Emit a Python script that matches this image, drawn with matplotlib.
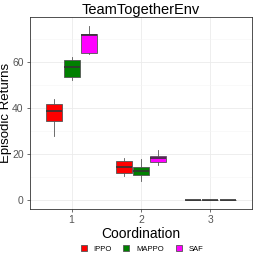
import matplotlib
matplotlib.use("Agg")
import matplotlib.pyplot as plt
from matplotlib.patches import Patch
import numpy as np

plt.rcParams['font.family'] = ['Liberation Sans', 'DejaVu Sans']

title = "TeamTogetherEnv"
groups = ["1", "2", "3"]
methods = ["IPPO", "MAPPO", "SAF"]
colors = ["#FF0000", "#008000", "#FF00FF"]

# per method: lists over groups (whislo, q1, med, q3, whishi)
ippo_whislo = [28.0, 10.5, 0.0]
ippo_q1 = [34.6, 11.7, 0.0]
ippo_med = [38.9, 14.3, 0.0]
ippo_q3 = [42.0, 17.1, 0.0]
ippo_whishi = [44.0, 18.4, 0.0]

mappo_whislo = [52.3, 8.5, 0.0]
mappo_q1 = [53.4, 11.1, 0.0]
mappo_med = [58.0, 12.5, 0.0]
mappo_q3 = [60.8, 14.4, 0.0]
mappo_whishi = [62.3, 18.0, 0.0]

saf_whislo = [63.4, 15.5, 0.0]
saf_q1 = [63.8, 16.8, 0.0]
saf_med = [72.0, 18.3, 0.0]
saf_q3 = [72.3, 19.4, 0.0]
saf_whishi = [75.6, 21.7, 0.0]

series = {
    "IPPO": (ippo_whislo, ippo_q1, ippo_med, ippo_q3, ippo_whishi),
    "MAPPO": (mappo_whislo, mappo_q1, mappo_med, mappo_q3, mappo_whishi),
    "SAF": (saf_whislo, saf_q1, saf_med, saf_q3, saf_whishi),
}

fig = plt.figure(figsize=(2.58, 2.58), dpi=100)
ax = fig.add_axes([0.116, 0.19, 0.861, 0.744])

x = np.arange(1, len(groups) + 1)
dodge = 0.75 / len(methods)
bw = dodge * 0.92
edge = "#555555"
for i, (m, c) in enumerate(zip(methods, colors)):
    wl, q1, md, q3, wh = series[m]
    stats = []
    for g in range(len(groups)):
        stats.append(dict(whislo=wl[g], q1=q1[g], med=md[g], q3=q3[g], whishi=wh[g], fliers=[]))
    pos = x + (i - 1) * dodge
    ax.bxp(stats, positions=pos, widths=bw, patch_artist=True, showcaps=False,
           boxprops=dict(facecolor=c, edgecolor=edge, linewidth=0.6),
           medianprops=dict(color="#333333", linewidth=1.2),
           whiskerprops=dict(color=edge, linewidth=0.6),
           manage_ticks=False, zorder=3)

ax.set_xlim(0.4, 3.6)
ax.set_ylim(-3.8, 79.6)
ax.set_xticks(x)
ax.set_xticklabels(groups)
ax.set_yticks([0, 20, 40, 60])
ax.set_yticks([10, 30, 50, 70], minor=True)
ax.grid(True, which="major", color="#EBEBEB", linewidth=0.6, zorder=0)
ax.grid(True, which="minor", axis="y", color="#F5F5F5", linewidth=0.4, zorder=0)
ax.set_axisbelow(True)
ax.tick_params(axis="both", which="major", length=2.5, width=0.5, color="#333333",
               labelsize=7.5, labelcolor="#555555", pad=2)
ax.tick_params(axis="both", which="minor", length=0)
for s in ax.spines.values():
    s.set_color("#333333")
    s.set_linewidth(0.6)

ax.set_title(title, fontsize=10.5, pad=2)
ax.set_xlabel("Coordination", fontsize=10, labelpad=1)
ax.set_ylabel("Episodic Returns", fontsize=9.5)
ax.yaxis.set_label_coords(-0.08, 0.5)

handles = [Patch(facecolor=c, edgecolor=edge, linewidth=0.6, label=m) for m, c in zip(methods, colors)]
fig.legend(handles=handles, loc="center", bbox_to_anchor=(0.55, 0.035), ncol=3, frameon=False,
           fontsize=5.5, handlelength=0.8, handleheight=0.7, handletextpad=0.9, columnspacing=1.5)

fig.savefig("out.png", dpi=100)
